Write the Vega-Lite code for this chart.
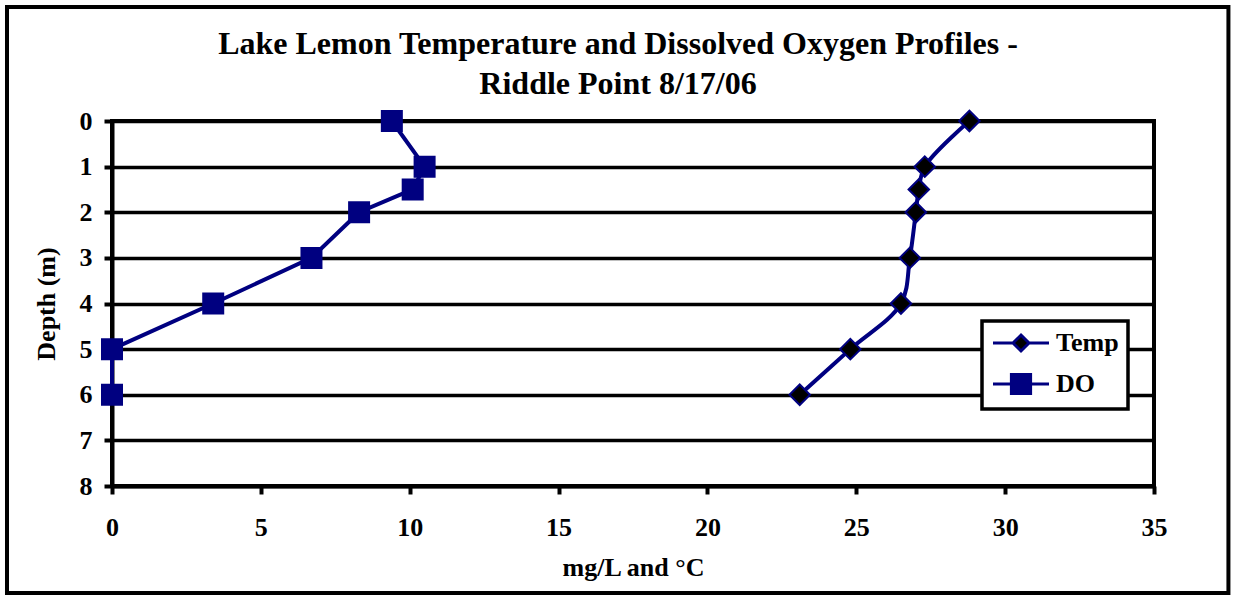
{
  "$schema": "https://vega.github.io/schema/vega-lite/v6.json",
  "width": 1042,
  "height": 365,
  "autosize": {"type": "pad"},
  "padding": {"left": 4, "top": 4, "right": 4, "bottom": 2},
  "background": "white",
  "title": {
    "text": ["Lake Lemon Temperature and Dissolved Oxygen Profiles -", "Riddle Point 8/17/06"],
    "font": "Liberation Serif",
    "fontSize": 32,
    "fontWeight": "bold",
    "color": "black",
    "lineHeight": 40,
    "frame": "group",
    "anchor": "middle",
    "baseline": "alphabetic",
    "dx": -15,
    "dy": 148,
    "offset": 27
  },
  "data": {
    "values": [
      {"series": "Temp", "depth": 0, "value": 28.8},
      {"series": "Temp", "depth": 1, "value": 27.3},
      {"series": "Temp", "depth": 1.5, "value": 27.1},
      {"series": "Temp", "depth": 2, "value": 27.0},
      {"series": "Temp", "depth": 3, "value": 26.8},
      {"series": "Temp", "depth": 4, "value": 26.5},
      {"series": "Temp", "depth": 5, "value": 24.8},
      {"series": "Temp", "depth": 6, "value": 23.1},
      {"series": "DO", "depth": 0, "value": 9.4},
      {"series": "DO", "depth": 1, "value": 10.5},
      {"series": "DO", "depth": 1.5, "value": 10.1},
      {"series": "DO", "depth": 2, "value": 8.3},
      {"series": "DO", "depth": 3, "value": 6.7},
      {"series": "DO", "depth": 4, "value": 3.4},
      {"series": "DO", "depth": 5, "value": 0},
      {"series": "DO", "depth": 6, "value": 0}
    ]
  },
  "layer": [
    {
      "data": {"values": [{"frame": "outer"}]},
      "mark": {"type": "rect", "fill": "transparent", "stroke": "black", "strokeWidth": 4, "clip": false},
      "encoding": {
        "x": {"datum": -3.527, "type": "quantitative", "title": "mg/L and °C", "scale": {"domain": [0, 35], "nice": false, "zero": false}},
        "x2": {"datum": 37.5},
        "y": {"datum": -2.499, "type": "quantitative", "title": "Depth (m)", "scale": {"domain": [0, 8], "reverse": true, "nice": false, "zero": false}},
        "y2": {"datum": 10.345}
      }
    },
    {
      "transform": [{"filter": "datum.series === 'Temp'"}],
      "mark": {"type": "line", "color": "#000080", "strokeWidth": 4, "interpolate": "catmull-rom"},
      "encoding": {
        "x": {"field": "value", "type": "quantitative", "title": "mg/L and °C", "axis": {"values": [0, 5, 10, 15, 20, 25, 30, 35]}},
        "y": {"field": "depth", "type": "quantitative", "title": "Depth (m)", "axis": {"values": [0, 1, 2, 3, 4, 5, 6, 7, 8]}},
        "order": {"field": "depth", "type": "quantitative"}
      }
    },
    {
      "transform": [{"filter": "datum.series === 'DO'"}],
      "mark": {"type": "line", "color": "#000080", "strokeWidth": 4},
      "encoding": {
        "x": {"field": "value", "type": "quantitative", "title": "mg/L and °C"},
        "y": {"field": "depth", "type": "quantitative", "title": "Depth (m)"},
        "order": {"field": "depth", "type": "quantitative"}
      }
    },
    {
      "mark": {"type": "point", "filled": true, "stroke": "#000080", "strokeWidth": 2, "opacity": 1},
      "encoding": {
        "x": {"field": "value", "type": "quantitative", "title": "mg/L and °C"},
        "y": {"field": "depth", "type": "quantitative", "title": "Depth (m)"},
        "fill": {
          "field": "series",
          "type": "nominal",
          "scale": {"domain": ["Temp", "DO"], "range": ["black", "#000080"]},
          "legend": {
            "title": null,
            "orient": "none",
            "legendX": 870,
            "legendY": 200,
            "fillColor": "white",
            "strokeColor": "black",
            "padding": 9,
            "cornerRadius": 0,
            "symbolSize": 256,
            "symbolOffset": 17,
            "symbolStrokeColor": "#000080",
            "symbolStrokeWidth": 3,
            "symbolOpacity": 1,
            "labelOffset": 22,
            "rowPadding": 11,
            "labelFont": "Liberation Serif",
            "labelFontWeight": "bold",
            "labelFontSize": 26,
            "labelColor": "black",
            "encode": {
              "legend": {"update": {"strokeWidth": {"value": 3.5}}},
              "symbols": {
                "update": {
                  "shape": {"signal": "datum.value === 'Temp' ? 'M-3.5,0L-1,0M1,0L3.5,0M0,-1L1,0L0,1L-1,0Z' : 'M-3.5,0L-1.2,0M1.2,0L3.5,0M-1.2,-1.2L1.2,-1.2L1.2,1.2L-1.2,1.2Z'"}
                }
              }
            }
          }
        },
        "shape": {"condition": {"test": "datum.series === 'Temp'", "value": "diamond"}, "value": "square"},
        "size": {"condition": {"test": "datum.series === 'Temp'", "value": 420}, "value": 400}
      }
    }
  ],
  "config": {
    "font": "Liberation Serif",
    "view": {"stroke": "black", "strokeWidth": 4},
    "axis": {
      "labelFont": "Liberation Serif",
      "labelFontWeight": "bold",
      "labelFontSize": 26,
      "labelColor": "black",
      "titleFont": "Liberation Serif",
      "titleFontWeight": "bold",
      "titleFontSize": 26,
      "titleColor": "black",
      "domainColor": "black",
      "domainWidth": 4,
      "tickColor": "black",
      "tickWidth": 4,
      "tickSize": 8,
      "labelFlush": false,
      "labelOverlap": false
    },
    "axisX": {"grid": false, "labelPadding": 20, "titlePadding": 14},
    "axisY": {"grid": true, "gridColor": "black", "gridWidth": 3.5, "gridOpacity": 1, "labelPadding": 12, "titlePadding": 20}
  }
}
